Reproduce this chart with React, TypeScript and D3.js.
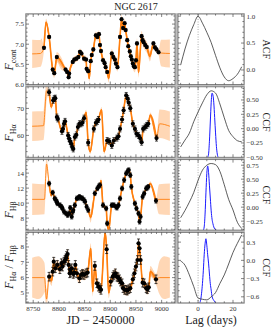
import React from "react";
import * as d3 from "d3";

// ---- light curves (JD - 2450000) ----
const contT = [8771, 8781, 8788, 8791, 8796, 8813, 8816, 8819, 8820, 8827, 8830, 8834, 8838, 8841, 8844, 8849, 8853, 8854, 8857, 8862, 8864, 8867, 8872, 8875, 8878, 8880, 8882, 8886, 8889, 8891, 8894, 8903, 8906, 8909, 8911, 8914, 8919, 8922, 8925, 8928, 8930, 8933, 8935, 8938, 8940, 8942, 8944, 8946, 8948, 8950, 8952, 8961, 8963, 8965, 8968, 8971, 8984, 8987, 8990, 8994];
const contV = [6.91, 7.18, 6.37, 6.28, 6.68, 6.37, 6.31, 6.18, 6.27, 6.56, 6.62, 6.64, 6.68, 6.81, 6.77, 6.64, 6.62, 6.39, 6.33, 6.58, 6.73, 6.87, 7.22, 7.18, 7.25, 6.98, 6.83, 6.6, 6.53, 6.43, 6.31, 6.77, 6.68, 6.62, 6.52, 6.43, 7.18, 7.62, 7.4, 7.52, 7.35, 7.1, 6.95, 6.82, 6.7, 6.62, 6.52, 6.45, 6.43, 6.6, 7.02, 7.2, 7.1, 7.05, 6.98, 6.93, 7.02, 6.92, 6.87, 6.8];
const contErr = 0.035;
const contSpikeT = [8775, 8859, 8897, 8955, 8977];
const contSpikeV = [7.55, 6.15, 6.15, 6.3, 6.7];
const contEdgeT = [8748, 8764, 9000, 9016];
const contEdgeV = [6.76, 6.77, 6.78, 6.77];
const contSigT = [8748, 8766, 8771, 8805, 8812, 8976, 8983, 8994, 8999, 9016];
const contSigV = [0.35, 0.33, 0.07, 0.15, 0.07, 0.14, 0.07, 0.07, 0.33, 0.35];

const haT = [8781, 8789, 8791, 8793, 8796, 8798, 8806, 8808, 8810, 8812, 8818, 8820, 8822, 8824, 8826, 8828, 8831, 8834, 8837, 8840, 8843, 8846, 8849, 8857, 8868, 8872, 8875, 8877, 8894, 8898, 8903, 8907, 8913, 8916, 8919, 8923, 8926, 8931, 8934, 8936, 8939, 8944, 8948, 8951, 8955, 8958, 8961, 8964, 8968, 8971, 8974, 8990];
const haV = [76.0, 73.0, 73.6, 73.8, 66.8, 66.1, 61.5, 62.4, 64.3, 65.2, 60.0, 58.8, 57.8, 56.9, 55.7, 55.0, 59.4, 60.2, 63.1, 64.3, 64.3, 64.7, 66.4, 57.3, 62.4, 64.7, 65.2, 65.9, 58.1, 57.8, 56.3, 58.1, 59.0, 59.7, 62.4, 65.9, 69.3, 74.8, 73.6, 72.1, 70.1, 64.3, 62.4, 60.6, 60.0, 59.0, 57.5, 62.4, 63.1, 63.7, 64.3, 59.0];
const haErr = 1.1;
const haSpikeT = [8776, 8785, 8853, 8861, 8883, 8888, 8978];
const haSpikeV = [76.5, 70.5, 68.5, 54.0, 69.5, 54.0, 67.5];
const haEdgeT = [8748, 8770, 8996, 9016];
const haEdgeV = [63.4, 63.6, 64.3, 63.4];
const haSigT = [8748, 8774, 8780, 8990, 8996, 9016];
const haSigV = [5.5, 5.3, 1.0, 1.0, 5.3, 5.5];

const hbT = [8781, 8788, 8792, 8794, 8796, 8797, 8802, 8805, 8807, 8810, 8814, 8817, 8820, 8822, 8825, 8827, 8828, 8831, 8835, 8838, 8840, 8843, 8846, 8849, 8851, 8854, 8857, 8870, 8875, 8878, 8880, 8886, 8892, 8894, 8903, 8907, 8911, 8913, 8916, 8919, 8923, 8927, 8931, 8934, 8936, 8939, 8941, 8948, 8951, 8955, 8957, 8959, 8963, 8966, 8970, 8972, 8974, 8989];
const hbV = [12.6, 11.4, 10.63, 10.4, 10.18, 9.96, 9.73, 9.51, 9.29, 8.84, 8.62, 8.4, 8.62, 9.37, 8.18, 8.84, 9.07, 9.73, 10.63, 10.7, 10.84, 10.7, 10.63, 10.4, 10.18, 9.51, 9.07, 11.3, 11.96, 12.27, 12.4, 9.73, 9.29, 7.29, 9.73, 9.73, 9.51, 9.38, 9.73, 10.63, 11.96, 13.07, 13.96, 14.27, 14.4, 13.73, 12.18, 9.96, 9.29, 8.62, 7.51, 8.18, 10.84, 11.29, 11.96, 12.04, 12.18, 10.3];
const hbErr = 0.3;
const hbSpikeT = [8776, 8785, 8862, 8882, 8897, 8978];
const hbSpikeV = [15.2, 11.0, 8.1, 13.0, 6.4, 12.6];
const hbEdgeT = [8748, 8772, 8995, 9016];
const hbEdgeV = [10.5, 10.5, 10.5, 10.5];
const hbSigT = [8748, 8772, 8780, 8857, 8863, 8869, 8989, 8995, 9016];
const hbSigV = [2.1, 2.0, 0.3, 0.3, 0.8, 0.3, 0.3, 2.0, 2.1];

const ratT = [8781, 8788, 8790, 8793, 8797, 8802, 8805, 8807, 8810, 8812, 8814, 8815, 8817, 8819, 8821, 8822, 8823, 8825, 8828, 8830, 8832, 8835, 8840, 8843, 8846, 8849, 8853, 8856, 8870, 8874, 8877, 8880, 8882, 8893, 8901, 8905, 8907, 8910, 8913, 8915, 8918, 8920, 8923, 8925, 8928, 8931, 8933, 8936, 8939, 8944, 8947, 8950, 8953, 8955, 8957, 8959, 8963, 8966, 8970, 8972, 8975, 8989];
const ratV = [6.06, 6.39, 7.04, 6.61, 6.83, 6.55, 6.94, 6.72, 7.04, 7.15, 7.26, 7.41, 7.54, 6.83, 6.28, 6.5, 6.33, 6.61, 6.24, 6.33, 6.83, 6.28, 5.96, 6.17, 6.24, 6.17, 6.28, 6.33, 6.76, 5.63, 5.41, 5.31, 5.2, 7.85, 5.74, 6.06, 6.17, 6.28, 6.06, 6.02, 5.89, 5.74, 5.63, 5.31, 5.2, 5.2, 5.15, 5.24, 5.31, 5.89, 6.28, 6.72, 7.15, 8.24, 7.91, 7.15, 5.67, 5.63, 5.31, 5.24, 5.37, 5.89];
const ratErr = 0.28;
const ratSpikeT = [8776, 8786, 8862, 8866, 8890, 8897, 8978];
const ratSpikeV = [4.6, 5.8, 7.9, 5.1, 8.95, 5.0, 6.4];
const ratEdgeT = [8748, 8772, 8996, 9016];
const ratEdgeV = [6.0, 6.0, 6.0, 6.0];
const ratSigT = [8748, 8760, 8770, 8780, 8989, 8996, 9005, 9016];
const ratSigV = [1.3, 1.4, 1.1, 0.35, 0.35, 1.1, 1.4, 1.3];

// ---- ACF / CCF ----
const lagGrid = [-10, -7.5, -5, -2.5, 0, 2.5, 5, 7.5, 10, 12.5, 15, 17.5, 20, 22.5, 25];
const acfCont = [0.09, 0.39, 0.64, 0.84, 1.0, 0.87, 0.7, 0.51, 0.27, 0.04, -0.13, -0.2, -0.16, -0.08, 0.06];
const ccfHa = [-0.32, -0.2, -0.08, 0.12, 0.29, 0.45, 0.59, 0.66, 0.62, 0.43, 0.19, -0.03, -0.14, -0.21, -0.23];
const ccfHb = [-0.19, -0.06, 0.09, 0.26, 0.48, 0.66, 0.75, 0.78, 0.76, 0.64, 0.4, 0.14, -0.05, -0.27, -0.38];
const ccfRat = [-0.01, -0.08, -0.24, -0.43, -0.62, -0.64, -0.65, -0.6, -0.53, -0.38, -0.24, -0.06, 0.13, 0.28, 0.42];

// lag distributions (peak-normalised)
const cdHaLag = [5.5, 6, 6.5, 7, 7.5, 8, 8.5, 9, 9.5, 10, 10.5, 11, 11.5];
const cdHa = [0, 0.05, 0.25, 0.55, 0.85, 1.0, 0.97, 0.85, 0.62, 0.38, 0.17, 0.05, 0];
const cdHbLag = [3, 3.5, 4, 4.5, 5, 5.5, 6, 6.5, 7, 7.5, 8, 8.5, 9, 9.5, 10.5];
const cdHb = [0, 0.05, 0.25, 0.58, 0.88, 1.0, 0.9, 0.7, 0.5, 0.3, 0.17, 0.1, 0.05, 0.02, 0];
const cdRatLag = [1, 1.5, 2, 2.5, 3, 3.5, 4, 4.5, 5, 5.5, 6, 6.5, 7, 7.5, 8, 9, 10];
const cdRat = [0, 0.05, 0.15, 0.3, 0.5, 0.75, 0.92, 1.0, 0.9, 0.75, 0.62, 0.45, 0.3, 0.2, 0.1, 0.04, 0];

// ---- axes ----
const contTicks = [6.0, 6.5, 7.0, 7.5];
const haTicks = [60, 70];
const hbTicks = [8, 10, 12, 14];
const ratTicks = [5, 6, 7, 8];
const jdTicks = [8750, 8800, 8850, 8900, 8950, 9000];
const lagTicks = [0, 20];
const acfTicks = [0, 0.5, 1.0];
const ccfHaTicks = [-0.5, -0.25, 0, 0.25, 0.5];
const ccfHbTicks = [-0.25, 0, 0.25, 0.5, 0.75];
const ccfRatTicks = [-0.6, -0.3, 0, 0.3];

const LX: [number, number] = [26, 175];
const RX: [number, number] = [178, 244];
const TOP0 = 14;
const PITCH = 72.8;
const PH = 70.5;
const FONT = "'Liberation Serif', 'DejaVu Serif', serif";
const ORANGE = "#ff7f0e";

const xJD = d3.scaleLinear().domain([8736, 9026]).range(LX);
const xLag = d3.scaleLinear().domain([-11.5, 26.3]).range(RX);

const fmtMinus = (s: string) => s.replace("-", "\u2212");

const leftPanels = [
  { t: contT, v: contV, err: contErr, sT: contSpikeT, sV: contSpikeV, eT: contEdgeT, eV: contEdgeV, gT: contSigT, gV: contSigV, dom: [6.0, 7.75], ticks: contTicks, minor: 0.1, fmt: d3.format(".1f"), labY: 60, sub: "cont" },
  { t: haT, v: haV, err: haErr, sT: haSpikeT, sV: haSpikeV, eT: haEdgeT, eV: haEdgeV, gT: haSigT, gV: haSigV, dom: [51.9, 78.0], ticks: haTicks, minor: 2, fmt: d3.format("d"), labY: 133, sub: "H\u03b1" },
  { t: hbT, v: hbV, err: hbErr, sT: hbSpikeT, sV: hbSpikeV, eT: hbEdgeT, eV: hbEdgeV, gT: hbSigT, gV: hbSigV, dom: [6.4, 15.8], ticks: hbTicks, minor: 0.5, fmt: d3.format("d"), labY: 210, sub: "H\u03b2" },
  { t: ratT, v: ratV, err: ratErr, sT: ratSpikeT, sV: ratSpikeV, eT: ratEdgeT, eV: ratEdgeV, gT: ratSigT, gV: ratSigV, dom: [4.35, 8.95], ticks: ratTicks, minor: 0.2, fmt: d3.format("d"), labY: 267, sub: "" },
];

const rightPanels = [
  { c: acfCont, dT: [] as number[], d: [] as number[], dom: [-0.27, 1.04], ticks: acfTicks, minor: 0.1, fmt: d3.format(".1f"), lab: "ACF" },
  { c: ccfHa, dT: cdHaLag, d: cdHa, dom: [-0.5, 0.73], ticks: ccfHaTicks, minor: 0.05, fmt: d3.format(".2f"), lab: "CCF" },
  { c: ccfHb, dT: cdHbLag, d: cdHb, dom: [-0.41, 0.85], ticks: ccfHbTicks, minor: 0.05, fmt: d3.format(".2f"), lab: "CCF" },
  { c: ccfRat, dT: cdRatLag, d: cdRat, dom: [-0.7, 0.46], ticks: ccfRatTicks, minor: 0.1, fmt: d3.format(".1f"), lab: "CCF" },
];

function minorTicks(dom: number[], step: number) {
  const out: number[] = [];
  const lo = Math.min(dom[0], dom[1]), hi = Math.max(dom[0], dom[1]);
  for (let k = Math.ceil(lo / step - 1e-9); k * step <= hi + 1e-9; k++) out.push(+(k * step).toFixed(6));
  return out;
}

function Ticks({ x, y, xMinor, xMajor, yMinor, yMajor }: any) {
  const [x0, x1] = x.range();
  const [y0, y1] = y.range(); // y0 bottom, y1 top
  const segs: any[] = [];
  const add = (a: number, b: number, c: number, d: number, k: string) =>
    segs.push(<line key={k} x1={a} y1={b} x2={c} y2={d} />);
  xMinor.forEach((v: number, i: number) => {
    const L = xMajor.includes(v) ? 3 : 1.6;
    const px = x(v);
    if (px < x0 + 0.5 || px > x1 - 0.5) return;
    add(px, y0, px, y0 - L, "xb" + i);
    add(px, y1, px, y1 + L, "xt" + i);
  });
  yMinor.forEach((v: number, i: number) => {
    const L = yMajor.includes(v) ? 3 : 1.6;
    const py = y(v);
    if (py > y0 - 0.5 || py < y1 + 0.5) return;
    add(x0, py, x0 + L, py, "yl" + i);
    add(x1, py, x1 - L, py, "yr" + i);
  });
  return <g stroke="#333" strokeWidth={0.6}>{segs}</g>;
}

function LeftPanel({ p, i }: any) {
  const top = TOP0 + i * PITCH;
  const bot = top + PH;
  const y = d3.scaleLinear().domain(p.dom).range([bot, top]);
  const seen = new Set<number>();
  const knots = [
    ...p.eT.map((t: number, j: number) => [t, p.eV[j]]),
    ...p.t.map((t: number, j: number) => [t, p.v[j]]),
    ...p.sT.map((t: number, j: number) => [t, p.sV[j]]),
  ]
    .sort((a, b) => a[0] - b[0])
    .filter((k) => (seen.has(k[0]) ? false : (seen.add(k[0]), true)));
  const meanAt = d3.scaleLinear().domain(knots.map((k) => k[0])).range(knots.map((k) => k[1]));
  const sigAt = d3.scaleLinear().domain(p.gT).range(p.gV).clamp(true);
  const bandT = Array.from(new Set([...knots.map((k) => k[0]), ...p.gT])).sort((a: any, b: any) => a - b) as number[];
  const tFirst = p.t[0], tLast = p.t[p.t.length - 1];
  const area = d3
    .area<number>()
    .x((t) => xJD(t))
    .y0((t) => y(meanAt(t) - sigAt(t)))
    .y1((t) => y(meanAt(t) + sigAt(t)))
    .curve(d3.curveMonotoneX);
  const inner = d3
    .area<number>()
    .x((t) => xJD(t))
    .y0((t) => y(meanAt(t) - 0.5 * sigAt(t)))
    .y1((t) => y(meanAt(t) + 0.5 * sigAt(t)));
  const line = d3
    .line<number[]>()
    .x((k) => xJD(k[0]))
    .y((k) => y(k[1]))
    .curve(d3.curveMonotoneX);
  const dataKnots = knots.filter((k) => k[0] >= tFirst - 1 && k[0] <= tLast + 1);
  const innerT = bandT.filter((t) => t >= tFirst && t <= tLast);
  const clipId = "clipL" + i;
  const isLast = i === 3;
  const labText = p.sub;
  return (
    <g>
      <defs>
        <clipPath id={clipId}>
          <rect x={LX[0]} y={top} width={LX[1] - LX[0]} height={PH} />
        </clipPath>
      </defs>
      <rect x={LX[0]} y={top} width={LX[1] - LX[0]} height={PH} fill="#fff" />
      <g clipPath={`url(#${clipId})`}>
        <path d={area(bandT) || ""} fill="#ff9a45" fillOpacity={0.4} />
        <path d={inner(innerT) || ""} fill={ORANGE} fillOpacity={0.45} />
        <path d={line(knots) || ""} fill="none" stroke={ORANGE} strokeWidth={0.9} />
        <path d={line(dataKnots) || ""} fill="none" stroke={ORANGE} strokeWidth={1.6} />
        {p.t.map((t: number, j: number) => {
          const cx = xJD(t), cy = y(p.v[j]);
          const e1 = y(p.v[j] + p.err), e0 = y(p.v[j] - p.err);
          return (
            <g key={j} stroke="#000" strokeWidth={0.7}>
              <line x1={cx} x2={cx} y1={e0} y2={e1} />
              <line x1={cx - 1.5} x2={cx + 1.5} y1={e0} y2={e0} />
              <line x1={cx - 1.5} x2={cx + 1.5} y1={e1} y2={e1} />
              <circle cx={cx} cy={cy} r={2.1} fill="#000" stroke="none" />
            </g>
          );
        })}
      </g>
      <rect x={LX[0]} y={top} width={LX[1] - LX[0]} height={PH} fill="none" stroke="#777" strokeWidth={0.9} />
      <Ticks x={xJD} y={y} xMinor={minorTicks(xJD.domain(), 10)} xMajor={jdTicks} yMinor={minorTicks(p.dom, p.minor)} yMajor={p.ticks} />
      <g fontFamily={FONT} fontSize={7} fill="#333" textAnchor="end">
        {p.ticks.map((v: number) => (
          <text key={v} x={LX[0] - 2} y={y(v) + 2.4}>{p.fmt(v)}</text>
        ))}
      </g>
      {isLast && (
        <g fontFamily={FONT} fontSize={7} fill="#333" textAnchor="middle">
          {jdTicks.map((v) => (
            <text key={v} x={xJD(v)} y={bot + 8.5}>{v}</text>
          ))}
        </g>
      )}
      <text transform={`translate(13,${p.labY}) rotate(-90)`} textAnchor="middle" fontFamily={FONT} fontSize={12} fill="#222">
        {labText ? (
          <>
            <tspan fontStyle="italic">F</tspan>
            <tspan fontSize={8} dy={2.5}>{labText}</tspan>
          </>
        ) : (
          <>
            <tspan fontStyle="italic">F</tspan>
            <tspan fontSize={8} dy={2.5}>{"H\u03b1"}</tspan>
            <tspan dy={-2.5}>{" / "}</tspan>
            <tspan fontStyle="italic">F</tspan>
            <tspan fontSize={8} dy={2.5}>{"H\u03b2"}</tspan>
          </>
        )}
      </text>
    </g>
  );
}

function RightPanel({ p, i }: any) {
  const top = TOP0 + i * PITCH;
  const bot = top + PH;
  const y = d3.scaleLinear().domain(p.dom).range([bot, top]);
  const yD = d3.scaleLinear().domain([0, 1]).range([bot, top + 0.09 * PH]);
  const line = d3.line<number>().x((_, j) => xLag(lagGrid[j])).y((v) => y(v)).curve(d3.curveMonotoneX);
  const dist = d3
    .line<number>()
    .x((_, j) => xLag(p.dT[j]))
    .y((v) => yD(v))
    .curve(d3.curveMonotoneX);
  const clipId = "clipR" + i;
  const isLast = i === 3;
  return (
    <g>
      <defs>
        <clipPath id={clipId}>
          <rect x={RX[0]} y={top} width={RX[1] - RX[0]} height={PH} />
        </clipPath>
      </defs>
      <rect x={RX[0]} y={top} width={RX[1] - RX[0]} height={PH} fill="#fff" />
      <g clipPath={`url(#${clipId})`}>
        <line x1={xLag(0)} x2={xLag(0)} y1={top} y2={bot} stroke="#888" strokeWidth={0.7} strokeDasharray="1,1.5" />
        {p.d.length > 0 && <path d={dist(p.d) || ""} fill="none" stroke="#1a1aff" strokeWidth={1} />}
        <path d={line(p.c) || ""} fill="none" stroke="#333" strokeWidth={0.8} />
      </g>
      <rect x={RX[0]} y={top} width={RX[1] - RX[0]} height={PH} fill="none" stroke="#777" strokeWidth={0.9} />
      <Ticks x={xLag} y={y} xMinor={minorTicks([-10, 25], 5)} xMajor={lagTicks} yMinor={minorTicks(p.dom, p.minor)} yMajor={p.ticks} />
      <g fontFamily={FONT} fontSize={7} fill="#333" textAnchor="start">
        {p.ticks.map((v: number) => (
          <text key={v} x={RX[1] + 2.5} y={y(v) + 2.4}>{fmtMinus(p.fmt(v))}</text>
        ))}
      </g>
      {isLast && (
        <g fontFamily={FONT} fontSize={7} fill="#333" textAnchor="middle">
          {lagTicks.map((v) => (
            <text key={v} x={xLag(v)} y={bot + 8.5}>{v}</text>
          ))}
        </g>
      )}
      <text transform={`translate(263,${(top + bot) / 2}) rotate(90)`} textAnchor="middle" fontFamily={FONT} fontSize={10} fill="#222">
        {p.lab}
      </text>
    </g>
  );
}

export default function App() {
  const gridTop = TOP0;
  const gridBot = TOP0 + 3 * PITCH + PH;
  return (
    <svg width={274} height={329} style={{ display: "block", position: "absolute", left: 0, top: 0, background: "#fff" }}>
      <rect x={0} y={0} width={274} height={329} fill="#fff" />
      <rect x={LX[0] - 0.8} y={gridTop - 0.8} width={RX[1] - LX[0] + 1.6} height={gridBot - gridTop + 1.6} fill="#bdbdbd" />
      {leftPanels.map((p, i) => (
        <LeftPanel key={i} p={p} i={i} />
      ))}
      {rightPanels.map((p, i) => (
        <RightPanel key={i} p={p} i={i} />
      ))}
      <text x={136} y={10} textAnchor="middle" fontFamily={FONT} fontSize={10} fill="#222">NGC 2617</text>
      <text x={(LX[0] + LX[1]) / 2} y={324} textAnchor="middle" fontFamily={FONT} fontSize={12} fill="#222">JD − 2450000</text>
      <text x={(RX[0] + RX[1]) / 2} y={324} textAnchor="middle" fontFamily={FONT} fontSize={12} fill="#222">Lag (days)</text>
    </svg>
  );
}
